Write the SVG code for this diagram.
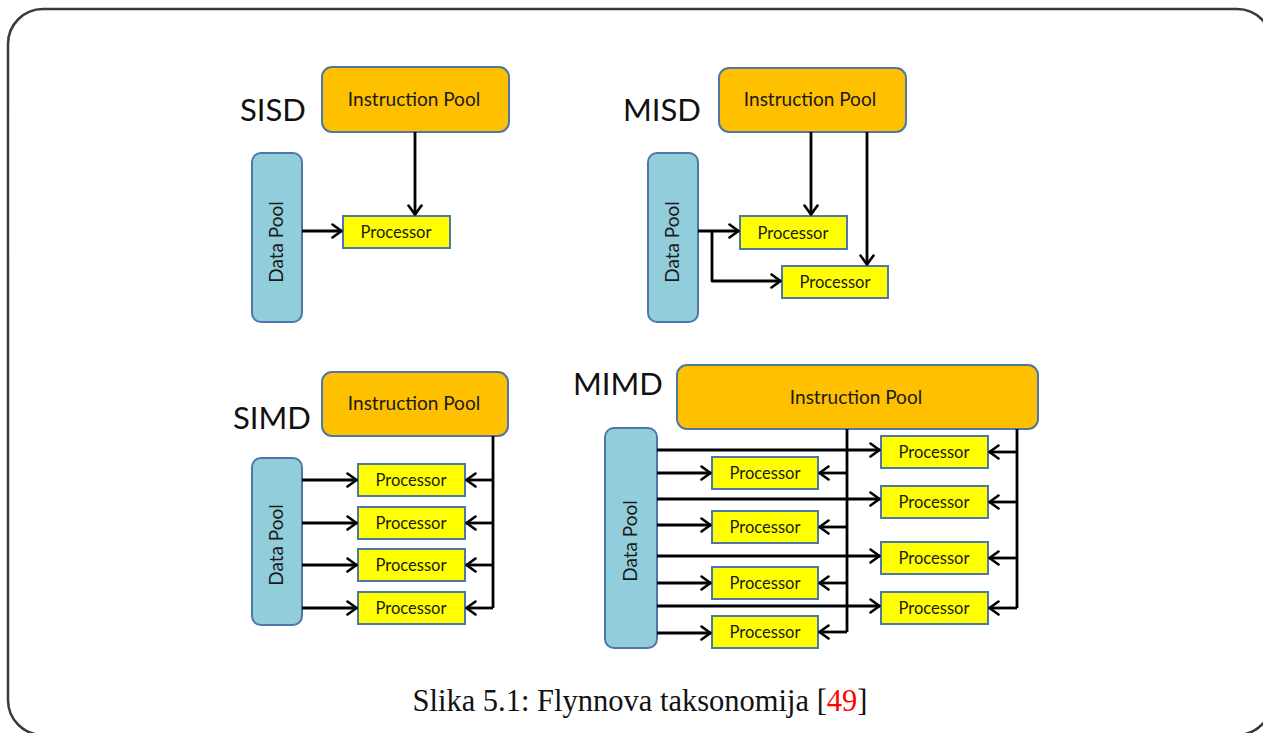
<svg xmlns="http://www.w3.org/2000/svg" width="1263" height="733" viewBox="0 0 1263 733">
  <defs>
    <marker id="arrow" viewBox="0 0 12 16" refX="11" refY="8" markerWidth="12" markerHeight="16" markerUnits="userSpaceOnUse" orient="auto">
      <path d="M1.5,1.5 L10.5,8 L1.5,14.5" fill="none" stroke="#000" stroke-width="2.6" stroke-linecap="round" stroke-linejoin="round"/>
    </marker>
    <style>
      .frame { fill: #fff; stroke: #3a3a3a; stroke-width: 2.5; }
      .ipool { fill: #FFC000; stroke: #4F76A8; stroke-width: 2; }
      .dpool { fill: #92CDDC; stroke: #4F76A8; stroke-width: 2; }
      .proc { fill: #FFFF00; stroke: #4F76A8; stroke-width: 2; }
      .lbl { font-family: Lato, "Liberation Sans", sans-serif; fill: #1a1a1a; text-anchor: middle; }
      .big { font-family: Lato, "Liberation Sans", sans-serif; font-size: 31px; fill: #111; }
      .ip { font-size: 19px; }
      .dp { font-size: 19px; }
      .pr { font-size: 16.5px; }
      .wire { fill: none; stroke: #000; stroke-width: 2.8; stroke-linejoin: round; }
      .arr { marker-end: url(#arrow); }
      .cap { font-family: "Liberation Serif", serif; font-size: 30.5px; fill: #111; text-anchor: middle; }
    </style>
  </defs>

  <rect class="frame" x="8" y="9" width="1264" height="726" rx="35" ry="35"/>

  <!-- section titles -->
  <text class="big" x="240" y="121">SISD</text>
  <text class="big" x="623" y="121">MISD</text>
  <text class="big" x="233" y="429">SIMD</text>
  <text class="big" x="573" y="395">MIMD</text>

  <!-- SISD -->
  <g id="sisd-ipool">
    <rect class="ipool" x="322" y="67" width="187" height="65" rx="10"/>
    <text class="lbl ip" x="414" y="106">Instruction Pool</text>
  </g>
  <g id="sisd-dpool">
    <rect class="dpool" x="252" y="153" width="50" height="169" rx="9"/>
    <text class="lbl dp" transform="translate(283,242) rotate(-90)">Data Pool</text>
  </g>
  <g id="sisd-proc">
    <rect class="proc" x="343" y="216" width="107" height="32"/>
    <text class="lbl pr" x="396" y="238">Processor</text>
  </g>

  <!-- MISD -->
  <g id="misd-ipool">
    <rect class="ipool" x="719" y="68" width="187" height="64" rx="10"/>
    <text class="lbl ip" x="810" y="106">Instruction Pool</text>
  </g>
  <g id="misd-dpool">
    <rect class="dpool" x="648" y="153" width="50" height="169" rx="9"/>
    <text class="lbl dp" transform="translate(679,242) rotate(-90)">Data Pool</text>
  </g>
  <g id="misd-proc1">
    <rect class="proc" x="740" y="216" width="107" height="33"/>
    <text class="lbl pr" x="793" y="239">Processor</text>
  </g>
  <g id="misd-proc2">
    <rect class="proc" x="782" y="266" width="106" height="32"/>
    <text class="lbl pr" x="835" y="288">Processor</text>
  </g>

  <!-- SIMD -->
  <g id="simd-ipool">
    <rect class="ipool" x="322" y="372" width="186" height="64" rx="10"/>
    <text class="lbl ip" x="414" y="410">Instruction Pool</text>
  </g>
  <g id="simd-dpool">
    <rect class="dpool" x="252" y="458" width="50" height="167" rx="9"/>
    <text class="lbl dp" transform="translate(283,545) rotate(-90)">Data Pool</text>
  </g>
  <g id="simd-proc1">
    <rect class="proc" x="358" y="464" width="107" height="32"/>
    <text class="lbl pr" x="411" y="486">Processor</text>
  </g>
  <g id="simd-proc2">
    <rect class="proc" x="358" y="507" width="107" height="32"/>
    <text class="lbl pr" x="411" y="529">Processor</text>
  </g>
  <g id="simd-proc3">
    <rect class="proc" x="358" y="549" width="107" height="32"/>
    <text class="lbl pr" x="411" y="571">Processor</text>
  </g>
  <g id="simd-proc4">
    <rect class="proc" x="358" y="592" width="107" height="32"/>
    <text class="lbl pr" x="411" y="614">Processor</text>
  </g>

  <!-- MIMD -->
  <g id="mimd-ipool">
    <rect class="ipool" x="677" y="365" width="361" height="64" rx="10"/>
    <text class="lbl ip" x="856" y="404">Instruction Pool</text>
  </g>
  <g id="mimd-dpool">
    <rect class="dpool" x="605" y="428" width="52" height="220" rx="9"/>
    <text class="lbl dp" transform="translate(637,541) rotate(-90)">Data Pool</text>
  </g>
  <g id="mimd-procL1">
    <rect class="proc" x="712" y="457" width="106" height="32"/>
    <text class="lbl pr" x="765" y="479">Processor</text>
  </g>
  <g id="mimd-procL2">
    <rect class="proc" x="712" y="511" width="106" height="32"/>
    <text class="lbl pr" x="765" y="533">Processor</text>
  </g>
  <g id="mimd-procL3">
    <rect class="proc" x="712" y="567" width="106" height="32"/>
    <text class="lbl pr" x="765" y="589">Processor</text>
  </g>
  <g id="mimd-procL4">
    <rect class="proc" x="712" y="616" width="106" height="32"/>
    <text class="lbl pr" x="765" y="638">Processor</text>
  </g>
  <g id="mimd-procR1">
    <rect class="proc" x="881" y="436" width="107" height="32"/>
    <text class="lbl pr" x="934" y="458">Processor</text>
  </g>
  <g id="mimd-procR2">
    <rect class="proc" x="881" y="486" width="107" height="32"/>
    <text class="lbl pr" x="934" y="508">Processor</text>
  </g>
  <g id="mimd-procR3">
    <rect class="proc" x="881" y="542" width="107" height="32"/>
    <text class="lbl pr" x="934" y="564">Processor</text>
  </g>
  <g id="mimd-procR4">
    <rect class="proc" x="881" y="592" width="107" height="32"/>
    <text class="lbl pr" x="934" y="614">Processor</text>
  </g>

  <!-- connectors -->
  <g id="connectors">
    <!-- SISD -->
    <path class="wire arr" d="M415,132 V215"/>
    <path class="wire arr" d="M302,231 H342"/>
    <!-- MISD -->
    <path class="wire arr" d="M811,132 V215"/>
    <path class="wire arr" d="M867,132 V265"/>
    <path class="wire arr" d="M698,231 H739"/>
    <path class="wire arr" d="M712,231 V281 H781"/>
    <!-- SIMD -->
    <path class="wire" d="M493,436 V608"/>
    <path class="wire arr" d="M493,480 H466"/>
    <path class="wire arr" d="M493,523 H466"/>
    <path class="wire arr" d="M493,565 H466"/>
    <path class="wire arr" d="M493,608 H466"/>
    <path class="wire arr" d="M302,480 H357"/>
    <path class="wire arr" d="M302,523 H357"/>
    <path class="wire arr" d="M302,565 H357"/>
    <path class="wire arr" d="M302,608 H357"/>
    <!-- MIMD instruction buses -->
    <path class="wire" d="M847,429 V632"/>
    <path class="wire arr" d="M847,473 H819"/>
    <path class="wire arr" d="M847,527 H819"/>
    <path class="wire arr" d="M847,583 H819"/>
    <path class="wire arr" d="M847,632 H819"/>
    <path class="wire" d="M1017,429 V608"/>
    <path class="wire arr" d="M1017,452 H989"/>
    <path class="wire arr" d="M1017,502 H989"/>
    <path class="wire arr" d="M1017,558 H989"/>
    <path class="wire arr" d="M1017,608 H989"/>
    <!-- MIMD data lines -->
    <path class="wire arr" d="M657,450 H880"/>
    <path class="wire arr" d="M657,473 H711"/>
    <path class="wire arr" d="M657,499 H880"/>
    <path class="wire arr" d="M657,525 H711"/>
    <path class="wire arr" d="M657,556 H880"/>
    <path class="wire arr" d="M657,583 H711"/>
    <path class="wire arr" d="M657,606 H880"/>
    <path class="wire arr" d="M657,633 H711"/>
  </g>

  <!-- caption -->
  <text class="cap" x="640" y="711">Slika 5.1: Flynnova taksonomija [<tspan fill="#ff0000">49</tspan>]</text>
</svg>
